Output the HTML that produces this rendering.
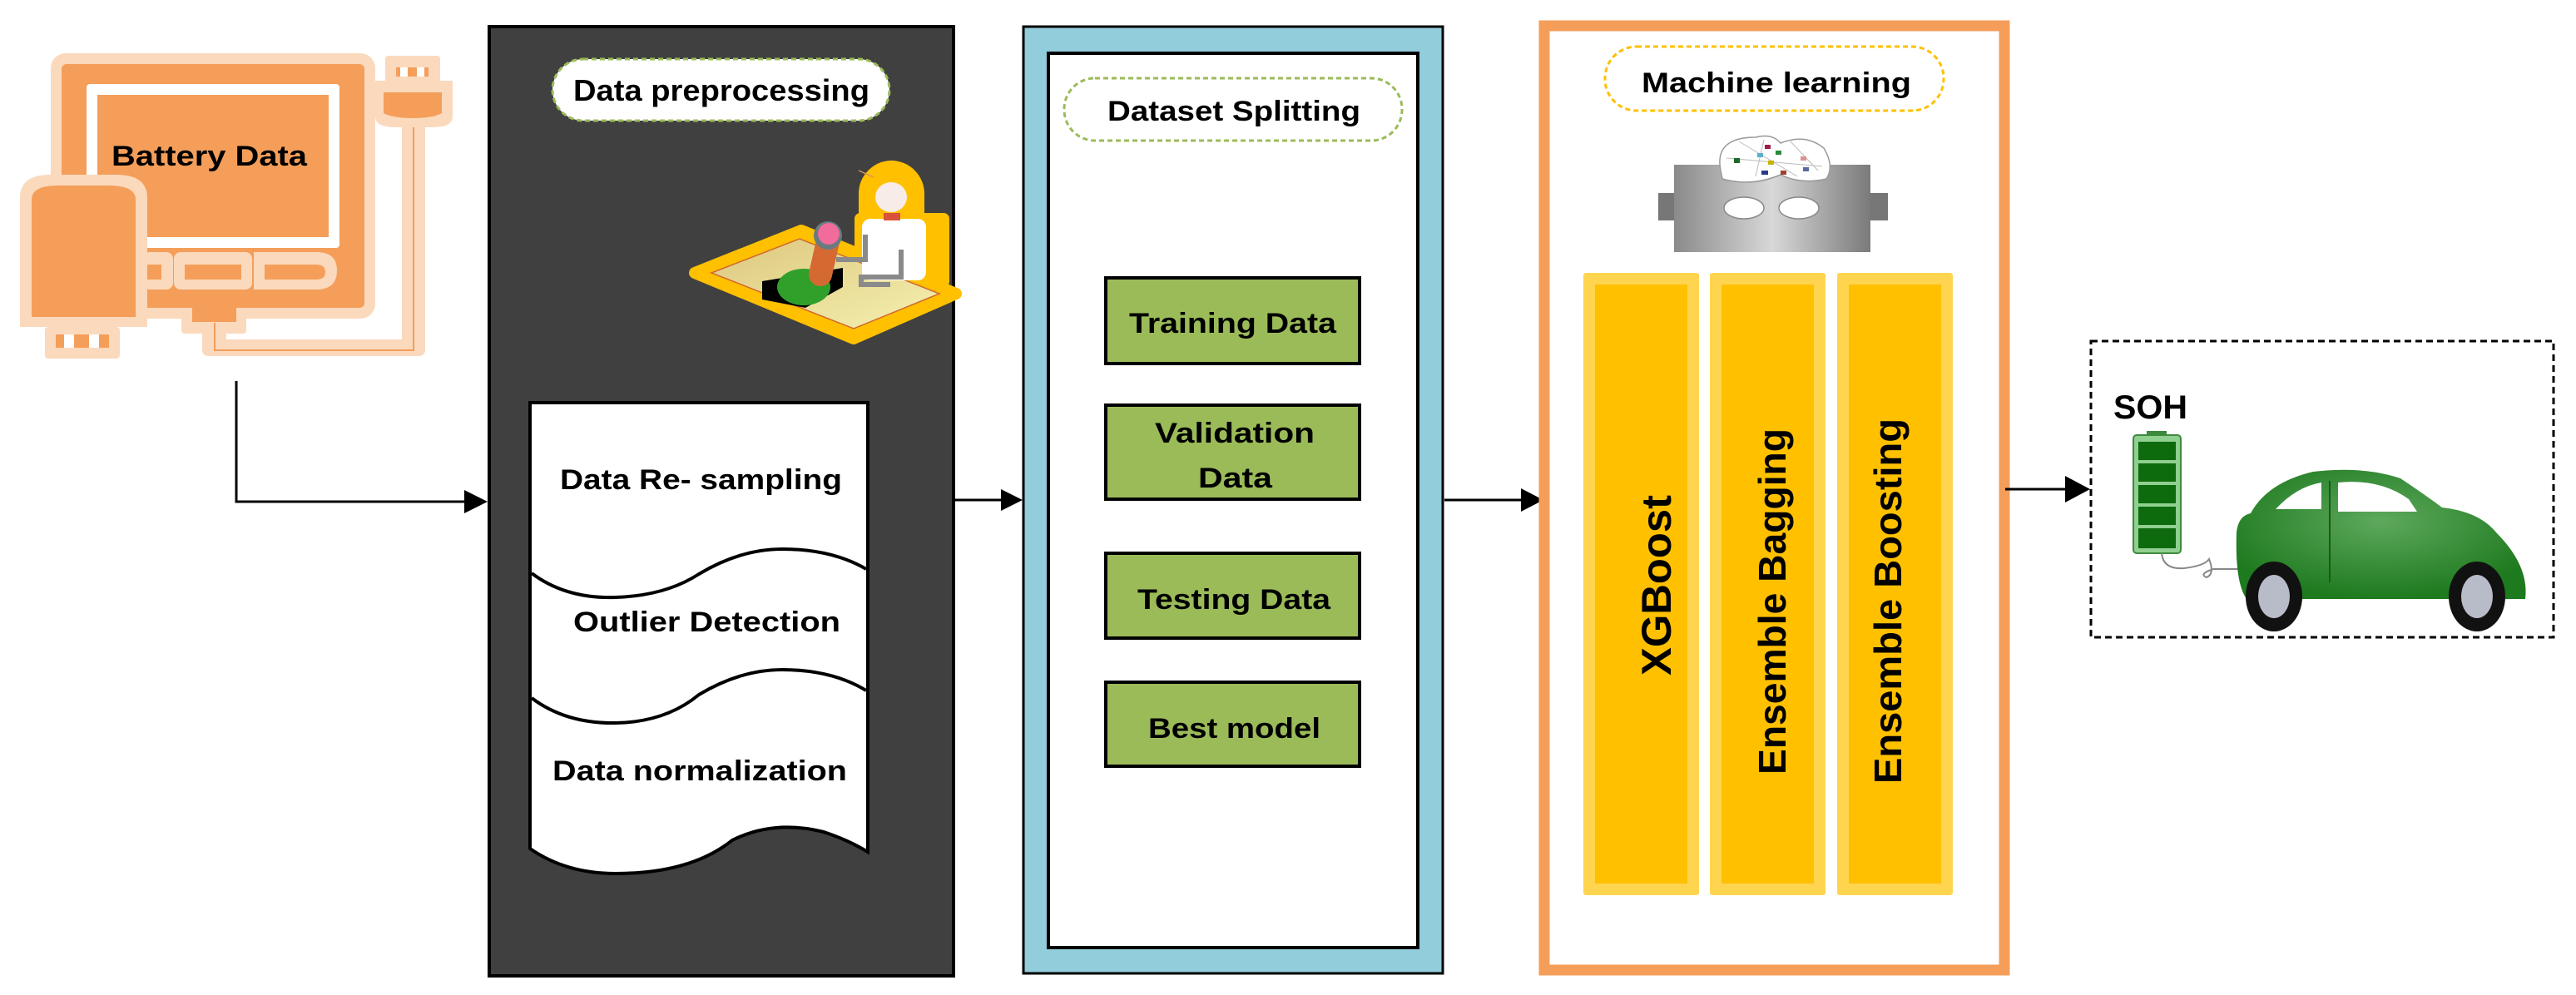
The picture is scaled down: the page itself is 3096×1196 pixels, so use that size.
<!DOCTYPE html>
<html><head><meta charset="utf-8"><style>
html,body{margin:0;padding:0;background:#fff;}
svg{display:block;}
text{font-family:"Liberation Sans",sans-serif;font-weight:bold;fill:#000;}
</style></head><body>
<svg width="3096" height="1196" viewBox="0 0 3096 1196" xmlns="http://www.w3.org/2000/svg">
<defs>
<linearGradient id="gh" x1="0" x2="1"><stop offset="0" stop-color="#8a8a8a"/><stop offset="0.5" stop-color="#d8d8d8"/><stop offset="1" stop-color="#7a7a7a"/></linearGradient>
<linearGradient id="desk" x1="0" y1="0" x2="1" y2="1"><stop offset="0" stop-color="#dcc77e"/><stop offset="1" stop-color="#f5f0b0"/></linearGradient>
<radialGradient id="car" cx="0.5" cy="0.4" r="0.6"><stop offset="0" stop-color="#5da85d"/><stop offset="1" stop-color="#1e7a1e"/></radialGradient>
</defs>

<!-- Battery Data device -->
<g>
<rect x="61" y="64" width="390" height="319" rx="18" fill="#FBD9BC"/>
<rect x="74" y="77" width="364" height="293" rx="6" fill="#F49E5A"/>
<rect x="104" y="101" width="304" height="197" rx="4" fill="#fff"/>
<rect x="117" y="114" width="278" height="171" fill="#F49E5A"/>
<!-- buttons -->
<rect x="172" y="303" width="36" height="45" rx="8" fill="#FBD9BC"/>
<rect x="172" y="318" width="22" height="18" fill="#F49E5A"/>
<rect x="209" y="303" width="94" height="45" rx="8" fill="#FBD9BC"/>
<rect x="222" y="318" width="68" height="18" fill="#F49E5A"/>
<path d="M305 303 H380 Q405 303 405 325 Q405 348 380 348 H305 Z" fill="#FBD9BC"/>
<path d="M318 318 H380 Q391 318 391 327 Q391 336 380 336 H318 Z" fill="#F49E5A"/>
<!-- bottom stub + cable -->
<rect x="218" y="370" width="78" height="31" rx="4" fill="#FBD9BC"/>
<rect x="231" y="370" width="53" height="17" fill="#F49E5A"/>
<path d="M243 398 V420 Q243 428 251 428 H503 Q511 428 511 420 V150 H483 V408 H272 V398 Z" fill="#FBD9BC"/>
<path d="M258 388 V421 H497 V150" fill="none" stroke="#F49E5A" stroke-width="2"/>
<!-- plug -->
<rect x="463" y="67" width="66" height="34" rx="4" fill="#FBD9BC"/>
<rect x="476" y="81" width="39" height="11" fill="#F49E5A"/>
<rect x="481" y="81" width="9" height="11" fill="#fff"/><rect x="501" y="81" width="9" height="11" fill="#fff"/>
<path d="M451 97 H544 V140 Q544 153 520 153 H475 Q451 153 451 140 Z" fill="#FBD9BC"/>
<path d="M461 111 H531 V136 Q520 142 496 142 Q472 142 461 136 Z" fill="#F49E5A"/>
<!-- drive -->
<path d="M24 393 V238 Q24 210 60 210 H140 Q177 210 177 238 V393 Z" fill="#FBD9BC"/>
<path d="M38 381 V240 Q38 223 70 223 H130 Q163 223 163 240 V381 Z" fill="#F49E5A"/>
<rect x="54" y="393" width="90" height="38" rx="4" fill="#FBD9BC"/>
<rect x="67" y="402" width="64" height="16" fill="#F49E5A"/>
<rect x="77" y="402" width="12" height="16" fill="#fff"/><rect x="107" y="402" width="12" height="16" fill="#fff"/>
<text x="134" y="199" font-size="34" textLength="235" lengthAdjust="spacingAndGlyphs">Battery Data</text>
</g>

<!-- arrow 1 -->
<path d="M284 458 V603 H566" fill="none" stroke="#000" stroke-width="3"/>
<polygon points="586,603 558,589 558,617" fill="#000"/>

<!-- Dark box -->
<rect x="588" y="32" width="558" height="1141" fill="#404040" stroke="#000" stroke-width="4"/>
<rect x="664" y="71" width="405" height="74" rx="37" fill="#fff" stroke="#9BBB59" stroke-width="3" stroke-dasharray="6,4"/>
<text x="689" y="121" font-size="36" textLength="356" lengthAdjust="spacingAndGlyphs">Data preprocessing</text>

<!-- person illustration -->
<g>
<polygon points="835,328 963,277 1149,353 1026,407" fill="#FFC000" stroke="#FFC000" stroke-width="14" stroke-linejoin="round"/>
<path d="M1071 200 a33 33 0 0 1 33 33 v30 h30 v75 h-100 v-75 h5 v-30 a33 33 0 0 1 32 -33z" fill="#FFC000" stroke="#FFC000" stroke-width="14" stroke-linejoin="round"/>
<polygon points="855,328 961,287 1129,353 1026,395" fill="url(#desk)" stroke="#d2692e" stroke-width="1.5"/>
<polygon points="916,338 1013,322 1013,345 968,370 916,360" fill="#000"/>
<ellipse cx="966" cy="345" rx="32" ry="22" fill="#30A02A"/>
<line x1="986" y1="330" x2="995" y2="290" stroke="#D46A31" stroke-width="28" stroke-linecap="round"/>
<circle cx="995" cy="283" r="17" fill="#667b82"/><circle cx="996" cy="281" r="13" fill="#F16B9B"/>
<rect x="1036" y="263" width="77" height="74" rx="10" fill="#fff"/>
<rect x="1062" y="256" width="20" height="9" fill="#D9533A"/>
<ellipse cx="1071" cy="237" rx="19" ry="18" fill="#f7ece8"/>
<path d="M1040 282 V312 H1005" fill="none" stroke="#8a8a8a" stroke-width="6"/>
<path d="M1083 300 V333 H1035 V342 H1070" fill="none" stroke="#8a8a8a" stroke-width="6"/>
<line x1="1032" y1="205" x2="1050" y2="213" stroke="#d8945e" stroke-width="1.5"/>
</g>

<!-- document -->
<path d="M637 484 H1043 V1024 Q1020 1010 990 1000 Q930 985 880 1010 Q830 1050 740 1050 Q680 1050 637 1020 Z" fill="#fff" stroke="#000" stroke-width="4"/>
<path d="M639 689 Q680 720 740 718 Q800 716 840 690 Q890 660 940 660 Q1000 660 1041 684" fill="none" stroke="#000" stroke-width="4"/>
<path d="M639 839 Q680 870 740 869 Q800 868 840 835 Q890 805 940 805 Q1000 805 1041 830" fill="none" stroke="#000" stroke-width="4"/>
<text x="673" y="588" font-size="34" textLength="339" lengthAdjust="spacingAndGlyphs">Data Re- sampling</text>
<text x="689" y="759" font-size="34" textLength="321" lengthAdjust="spacingAndGlyphs">Outlier Detection</text>
<text x="664" y="938" font-size="34" textLength="354" lengthAdjust="spacingAndGlyphs">Data normalization</text>

<!-- arrow 2 -->
<line x1="1148" y1="601" x2="1212" y2="601" stroke="#000" stroke-width="3"/>
<polygon points="1229,601 1203,588 1203,614" fill="#000"/>

<!-- Blue box -->
<rect x="1230" y="32" width="504" height="1138" fill="#92CDDC" stroke="#000" stroke-width="3"/>
<rect x="1260" y="64" width="444" height="1075" fill="#fff" stroke="#000" stroke-width="4"/>
<rect x="1279" y="94" width="406" height="75" rx="37" fill="#fff" stroke="#9BBB59" stroke-width="3" stroke-dasharray="6,4"/>
<text x="1331" y="145" font-size="34" textLength="304" lengthAdjust="spacingAndGlyphs">Dataset Splitting</text>
<g fill="#9BBB59" stroke="#000" stroke-width="4">
<rect x="1329" y="334" width="305" height="103"/>
<rect x="1329" y="487" width="305" height="113"/>
<rect x="1329" y="665" width="305" height="102"/>
<rect x="1329" y="820" width="305" height="101"/>
</g>
<text x="1357" y="400" font-size="34" textLength="249" lengthAdjust="spacingAndGlyphs">Training Data</text>
<text x="1388" y="532" font-size="34" textLength="192" lengthAdjust="spacingAndGlyphs">Validation</text>
<text x="1440" y="586" font-size="34" textLength="89" lengthAdjust="spacingAndGlyphs">Data</text>
<text x="1367" y="732" font-size="34" textLength="232" lengthAdjust="spacingAndGlyphs">Testing Data</text>
<text x="1380" y="887" font-size="34" textLength="207" lengthAdjust="spacingAndGlyphs">Best model</text>

<!-- arrow 3 -->
<line x1="1736" y1="601" x2="1835" y2="601" stroke="#000" stroke-width="3"/>
<polygon points="1855,601 1828,587 1828,615" fill="#000"/>

<!-- Orange box -->
<rect x="1856" y="31" width="553" height="1135" fill="#fff" stroke="#F49E5A" stroke-width="13"/>
<rect x="1929" y="56" width="407" height="77" rx="38" fill="#fff" stroke="#FFC000" stroke-width="3" stroke-dasharray="6,4"/>
<text x="1973" y="111" font-size="34" textLength="324" lengthAdjust="spacingAndGlyphs">Machine learning</text>

<!-- robot head -->
<rect x="1993" y="232" width="276" height="33" fill="#777"/>
<rect x="2012" y="198" width="236" height="105" fill="url(#gh)"/>
<path d="M2068 205 Q2060 165 2110 165 Q2130 160 2140 172 Q2170 160 2192 178 Q2205 200 2195 215 Q2165 222 2140 210 Q2105 225 2070 215 Z" fill="#fff" stroke="#999" stroke-width="1.5"/>
<g stroke="#bbb" stroke-width="1"><line x1="2075" y1="190" x2="2190" y2="200"/><line x1="2090" y1="170" x2="2160" y2="212"/><line x1="2120" y1="168" x2="2110" y2="212"/><line x1="2150" y1="168" x2="2185" y2="205"/></g>
<rect x="2084" y="190" width="7" height="6" fill="#1d6b2a"/><rect x="2121" y="174" width="7" height="5" fill="#a01c4a"/><rect x="2134" y="181" width="7" height="5" fill="#2a8a3a"/><rect x="2125" y="193" width="7" height="5" fill="#c8b400"/><rect x="2112" y="184" width="7" height="5" fill="#5ab0c8"/><rect x="2117" y="205" width="8" height="5" fill="#2a3a8a"/><rect x="2140" y="205" width="7" height="5" fill="#a0402a"/><rect x="2167" y="201" width="7" height="5" fill="#5a6aa0"/><rect x="2164" y="188" width="7" height="5" fill="#e09090"/>
<ellipse cx="2096" cy="250" rx="24" ry="13" fill="#fff" stroke="#888" stroke-width="1.5"/>
<ellipse cx="2162" cy="250" rx="24" ry="13" fill="#fff" stroke="#888" stroke-width="1.5"/>

<!-- yellow bars -->
<g>
<rect x="1903" y="328" width="139" height="748" rx="3" fill="#FFD54F"/>
<rect x="1917" y="342" width="111" height="720" fill="#FFC000"/>
<rect x="2055" y="328" width="139" height="748" rx="3" fill="#FFD54F"/>
<rect x="2069" y="342" width="111" height="720" fill="#FFC000"/>
<rect x="2208" y="328" width="139" height="748" rx="3" fill="#FFD54F"/>
<rect x="2222" y="342" width="111" height="720" fill="#FFC000"/>
</g>
<text transform="translate(2008,812) rotate(-90)" font-size="50" textLength="217" lengthAdjust="spacingAndGlyphs">XGBoost</text>
<text transform="translate(2146,931) rotate(-90)" font-size="46" textLength="416" lengthAdjust="spacingAndGlyphs">Ensemble Bagging</text>
<text transform="translate(2285,942) rotate(-90)" font-size="46" textLength="439" lengthAdjust="spacingAndGlyphs">Ensemble Boosting</text>

<!-- arrow 4 -->
<line x1="2410" y1="588" x2="2490" y2="588" stroke="#000" stroke-width="3"/>
<polygon points="2512,588 2482,572 2482,604" fill="#000"/>

<!-- SOH box -->
<rect x="2513" y="410" width="556" height="356" fill="#fff" stroke="#000" stroke-width="3" stroke-dasharray="8,5"/>
<text x="2540" y="503" font-size="40" textLength="89" lengthAdjust="spacingAndGlyphs">SOH</text>
<rect x="2580" y="518" width="24" height="6" fill="#3c8a3c"/>
<rect x="2564" y="523" width="57" height="142" rx="4" fill="#8fcf8f" stroke="#3c8a3c" stroke-width="2"/>
<g fill="#0d6b0d"><rect x="2570" y="531" width="45" height="22"/><rect x="2570" y="557" width="45" height="22"/><rect x="2570" y="583" width="45" height="22"/><rect x="2570" y="609" width="45" height="22"/><rect x="2570" y="635" width="45" height="24"/></g>
<path d="M2598 665 Q2600 685 2625 683 Q2650 680 2655 672 Q2662 690 2652 694 Q2642 690 2660 684 H2690" fill="none" stroke="#888" stroke-width="2"/>
<!-- car -->
<path d="M2688 640 Q2690 620 2705 617 Q2725 580 2780 567 Q2840 560 2885 575 Q2915 595 2935 610 Q2980 615 3000 640 Q3040 680 3035 720 H2700 Q2686 700 2688 640 Z" fill="url(#car)"/>
<path d="M2735 612 Q2760 585 2790 580 V612 Z" fill="#fff"/>
<path d="M2810 580 Q2860 575 2895 600 L2905 615 H2810 Z" fill="#fff"/>
<line x1="2800" y1="578" x2="2800" y2="700" stroke="#1a5a1a" stroke-width="2"/>
<ellipse cx="2733" cy="717" rx="34" ry="42" fill="#111"/><ellipse cx="2733" cy="717" rx="19" ry="26" fill="#b8bcc8"/>
<ellipse cx="2977" cy="717" rx="34" ry="42" fill="#111"/><ellipse cx="2977" cy="717" rx="19" ry="26" fill="#b8bcc8"/>
</svg>
</body></html>
